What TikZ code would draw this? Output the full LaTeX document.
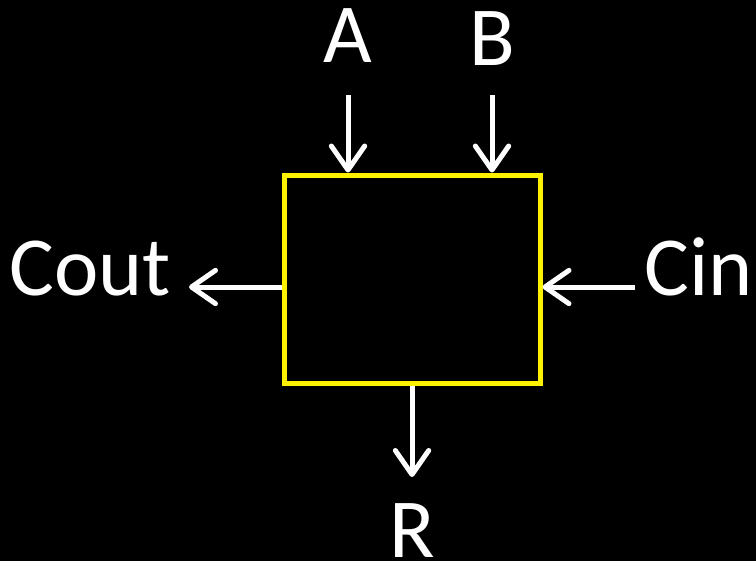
\documentclass[tikz,border=0pt]{standalone}
\usepackage{fontspec}
\setmainfont{Carlito}
\usetikzlibrary{arrows.meta}
\begin{document}
\begin{tikzpicture}[x=0.75pt,y=-0.75pt,
  lbl/.style={text=white,inner sep=0pt,font=\fontsize{63}{70}\selectfont},
  arr/.style={draw=white,line width=3.75pt,-{Straight Barb[length=18pt,width=25pt,line cap=round,line join=round]}},
  blk/.style={draw=yellow,line width=3.75pt,minimum width=192pt,minimum height=156pt,inner sep=0pt}]
\fill[black] (0,0) rectangle (756,561);
\useasboundingbox (0,0) rectangle (756,561);
\node[blk] (box) at (412,279) {};
\node[lbl,anchor=base] (A) at (348,62) {A};
\node[lbl,anchor=base] (B) at (492,65) {B};
\node[lbl,anchor=base west] (Cout) at (9,295) {Cout};
\node[lbl,anchor=base west] (Cin) at (644,295) {Cin};
\node[lbl,anchor=base] (R) at (412,557) {R};
\coordinate (a0) at (348,95);
\coordinate (b0) at (492,95);
\coordinate (co) at (189,287);
\coordinate (ci) at (635,287);
\coordinate (r1) at (412,477);
\draw[arr] (a0) -- (a0 |- box.north);
\draw[arr] (b0) -- (b0 |- box.north);
\draw[arr] (co -| box.west) -- (co);
\draw[arr] (ci) -- (ci -| box.east);
\draw[arr] (r1 |- box.south) -- (r1);
\end{tikzpicture}
\end{document}
